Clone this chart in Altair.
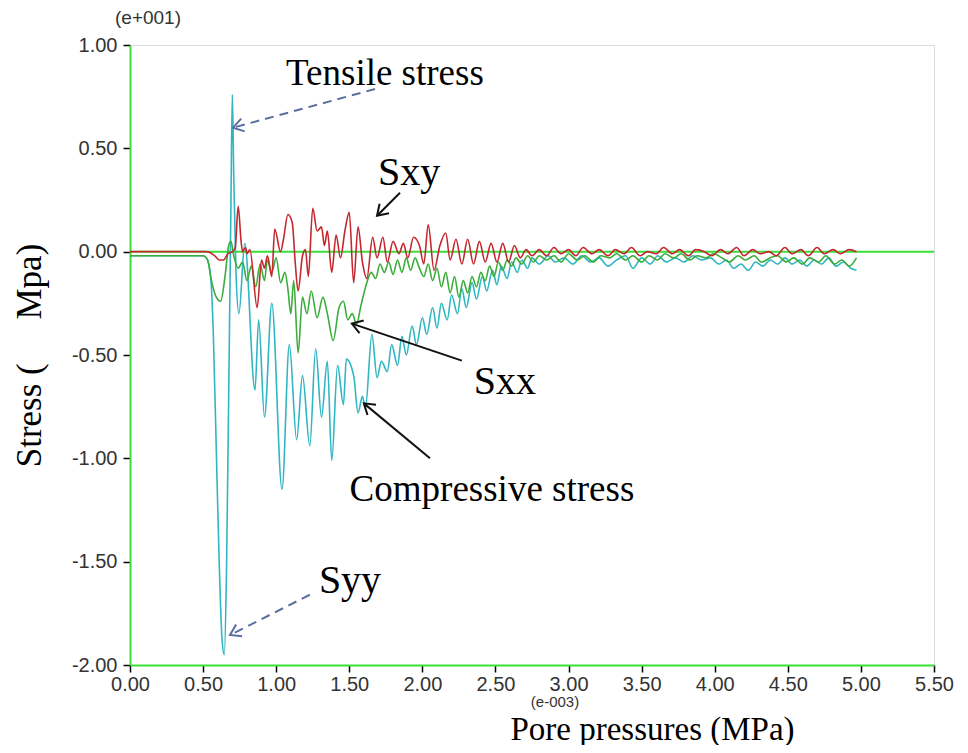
import math
import altair as alt
import pandas as pd

# ---------------- data ----------------
# Syy (cyan)
syy_x = [0.00, 0.50, 0.53, 0.555, 0.57, 0.59, 0.61, 0.63, 0.645, 0.66, 0.675, 0.69, 0.70, 0.71, 0.725,
         0.745, 0.785, 0.855, 0.88, 0.92, 0.97, 1.04, 1.09, 1.14, 1.18, 1.23, 1.27, 1.31, 1.35, 1.38,
         1.42, 1.46, 1.48, 1.53, 1.56, 1.59, 1.61, 1.655, 1.69, 1.72, 1.76, 1.79, 1.83, 1.86, 1.89,
         1.93, 1.96, 2.00, 2.03, 2.07, 2.10, 2.13, 2.17, 2.20, 2.24, 2.27, 2.30, 2.34, 2.37, 2.41,
         2.44, 2.48, 2.51, 2.54, 2.58, 2.61, 2.65, 2.68, 2.72, 2.75, 2.80, 2.86, 2.91, 2.97, 3.03,
         3.09, 3.15, 3.21, 3.27, 3.33, 3.39, 3.44, 3.50, 3.56, 3.61, 3.67, 3.73, 3.79, 3.85, 3.91,
         3.97, 4.03, 4.08, 4.13, 4.18, 4.23, 4.28, 4.33, 4.38, 4.43, 4.48, 4.53, 4.58, 4.63, 4.68,
         4.73, 4.78, 4.83, 4.88, 4.93, 4.97]
syy_y = [-0.02, -0.02, -0.04, -0.15, -0.40, -0.95, -1.50, -1.88, -1.95, -1.55, -0.70, 0.20, 0.76, 0.35, -0.10,
         -0.30, 0.04, -0.67, -0.33, -0.80, -0.25, -1.15, -0.45, -0.91, -0.60, -0.94, -0.47, -0.80, -0.53, -1.01,
         -0.55, -0.74, -0.52, -0.60, -0.78, -0.70, -0.76, -0.40, -0.61, -0.53, -0.58, -0.45, -0.55, -0.41, -0.50,
         -0.36, -0.45, -0.32, -0.40, -0.27, -0.37, -0.25, -0.33, -0.21, -0.30, -0.18, -0.27, -0.15, -0.23, -0.12,
         -0.19, -0.09, -0.16, -0.07, -0.13, -0.05, -0.10, -0.04, -0.08, -0.03, -0.06, -0.02, -0.05, -0.03, -0.06,
         -0.02, -0.05, -0.03, -0.07, -0.04, -0.02, -0.08, -0.03, -0.06, -0.02, -0.05, -0.03, -0.05, -0.02, -0.04,
         -0.03, -0.06, -0.04, -0.08, -0.06, -0.09, -0.05, -0.07, -0.04, -0.06, -0.03, -0.06, -0.04, -0.07, -0.04,
         -0.06, -0.03, -0.07, -0.05, -0.08, -0.09]

# Sxx (green)
sxx_x = [0.00, 0.50, 0.53, 0.56, 0.59, 0.62, 0.65, 0.675, 0.69, 0.71, 0.74, 0.77, 0.80, 0.83, 0.86,
         0.89, 0.92, 0.94, 0.97, 1.00, 1.03, 1.06, 1.08, 1.10, 1.12, 1.15, 1.18, 1.21, 1.24, 1.28,
         1.32, 1.35, 1.39, 1.43, 1.46, 1.49, 1.52, 1.55, 1.58, 1.62, 1.65, 1.68, 1.71, 1.74, 1.77,
         1.80, 1.83, 1.86, 1.89, 1.92, 1.95, 1.98, 2.01, 2.04, 2.07, 2.10, 2.13, 2.16, 2.19, 2.22,
         2.25, 2.28, 2.31, 2.34, 2.37, 2.40, 2.43, 2.46, 2.49, 2.52, 2.55, 2.58, 2.61, 2.64, 2.68,
         2.72, 2.76, 2.80, 2.85, 2.90, 2.95, 3.00, 3.06, 3.11, 3.17, 3.22, 3.28, 3.33, 3.39, 3.44,
         3.50, 3.55, 3.61, 3.66, 3.72, 3.77, 3.83, 3.88, 3.94, 3.99, 4.05, 4.10, 4.16, 4.21, 4.27,
         4.32, 4.38, 4.43, 4.49, 4.54, 4.60, 4.65, 4.71, 4.76, 4.82, 4.87, 4.92, 4.97]
sxx_y = [-0.02, -0.02, -0.04, -0.15, -0.22, -0.24, -0.12, 0.03, 0.05, -0.02, -0.08, -0.05, -0.14, -0.07, -0.17,
         -0.06, -0.14, -0.04, -0.10, -0.03, -0.15, -0.10, -0.18, -0.30, -0.14, -0.49, -0.22, -0.30, -0.19, -0.32,
         -0.22, -0.30, -0.43, -0.27, -0.24, -0.33, -0.30, -0.35, -0.26, -0.15, -0.10, -0.13, -0.06, -0.10, -0.05,
         -0.11, -0.04, -0.10, -0.03, -0.09, -0.03, -0.08, -0.12, -0.06, -0.14, -0.08, -0.17, -0.10, -0.20, -0.12,
         -0.22, -0.14, -0.20, -0.12, -0.17, -0.10, -0.14, -0.07, -0.12, -0.05, -0.09, -0.04, -0.07, -0.03, -0.06,
         -0.02, -0.05, -0.02, -0.04, -0.02, -0.05, -0.01, -0.04, -0.02, -0.05, -0.02, -0.03, -0.01, -0.04, -0.02,
         -0.05, -0.02, -0.04, -0.01, -0.03, -0.01, -0.04, -0.02, -0.03, -0.01, -0.03, -0.05, -0.02, -0.04, -0.02,
         -0.05, -0.03, -0.02, -0.05, -0.03, -0.06, -0.03, -0.05, -0.02, -0.06, -0.04, -0.07, -0.03]

# Sxy (red)
sxy_x = [0.00, 0.52, 0.55, 0.58, 0.61, 0.64, 0.67, 0.70, 0.72, 0.74, 0.76, 0.77, 0.79, 0.80, 0.82,
         0.87, 0.90, 0.92, 0.94, 0.97, 0.99, 1.03, 1.05, 1.08, 1.11, 1.13, 1.15, 1.18, 1.20, 1.22,
         1.25, 1.28, 1.31, 1.33, 1.35, 1.38, 1.41, 1.44, 1.47, 1.50, 1.53, 1.56, 1.59, 1.62, 1.66,
         1.69, 1.73, 1.76, 1.80, 1.84, 1.87, 1.90, 1.94, 1.98, 2.01, 2.04, 2.08, 2.12, 2.16, 2.19,
         2.23, 2.27, 2.31, 2.35, 2.39, 2.43, 2.47, 2.51, 2.55, 2.59, 2.63, 2.67, 2.71, 2.75, 2.80,
         2.85, 2.90, 2.95, 3.00, 3.05, 3.10, 3.16, 3.21, 3.27, 3.32, 3.38, 3.43, 3.49, 3.54, 3.60,
         3.65, 3.71, 3.76, 3.82, 3.87, 3.93, 3.98, 4.04, 4.09, 4.15, 4.20, 4.26, 4.31, 4.37, 4.42,
         4.48, 4.53, 4.59, 4.64, 4.70, 4.75, 4.81, 4.86, 4.92, 4.97]
sxy_y = [0.00, 0.00, -0.005, -0.02, -0.04, -0.04, -0.01, 0.00, 0.02, 0.22, 0.05, 0.00, 0.02, -0.01, 0.01,
         -0.27, -0.04, -0.08, -0.02, -0.12, 0.11, 0.00, 0.06, 0.18, 0.14, -0.05, -0.19, -0.02, 0.01, -0.12,
         0.21, 0.10, 0.12, 0.03, 0.10, -0.10, 0.08, -0.03, 0.10, 0.19, -0.15, 0.12, -0.05, -0.13, 0.07,
         -0.03, 0.07, -0.05, 0.05, -0.01, 0.04, -0.03, 0.07, 0.03, -0.06, 0.13, -0.09, 0.03, 0.09, -0.04,
         0.06, -0.06, 0.06, -0.06, 0.05, -0.05, 0.04, -0.05, 0.04, -0.05, 0.03, -0.03, 0.01, -0.02, 0.01,
         -0.02, 0.02, -0.01, 0.01, -0.02, 0.02, -0.01, 0.01, -0.02, 0.01, -0.01, 0.02, -0.02, 0.00, -0.01,
         0.02, -0.01, 0.01, -0.02, 0.01, 0.00, -0.02, 0.01, -0.01, 0.02, -0.02, 0.01, -0.01, 0.00, -0.02,
         0.02, -0.01, 0.01, -0.02, 0.02, -0.01, 0.01, -0.01, 0.01, 0.00]

x_ticks = [0.0, 0.5, 1.0, 1.5, 2.0, 2.5, 3.0, 3.5, 4.0, 4.5, 5.0, 5.5]
y_ticks = [-2.0, -1.5, -1.0, -0.5, 0.0, 0.5, 1.0]

# annotations: text, x, y, font size
ann_text = ["Tensile stress", "Sxy", "Sxx", "Compressive stress", "Syy"]
ann_x = [1.744, 1.909, 2.565, 2.476, 1.505]
ann_y = [0.861, 0.382, -0.629, -1.152, -1.592]
ann_size = [37, 40, 40, 37, 40]

# arrows: start (x, y) -> tip (x2, y2)
arr_x = [1.676, 1.23, 1.847, 2.27, 2.052]
arr_y = [0.787, -1.66, 0.285, -0.527, -1.00]
arr_tx = [0.705, 0.684, 1.69, 1.518, 1.60]
arr_ty = [0.60, -1.855, 0.174, -0.348, -0.734]
arr_dashed = [True, True, False, False, False]

# ---------------- styling ----------------
W, H = 804, 620
X_DOM = [0, 5.5]
Y_DOM = [-2, 1]
GREEN_AXIS = "#38e038"
C_SYY = "#2fb6c2"
C_SXX = "#3aad3a"
C_SXY = "#c4282e"
C_DASH = "#5a6f9e"

xscale = alt.Scale(domain=X_DOM, nice=False, zero=False)
yscale = alt.Scale(domain=Y_DOM, nice=False, zero=False)

x_axis = alt.Axis(values=x_ticks, format=".2f", grid=False,
                  labelFont="Liberation Sans", labelFontSize=20, labelColor="#333333",
                  labelPadding=2, labelFlush=False,
                  tickColor="#000000", tickSize=7, tickWidth=1.5,
                  domainColor=GREEN_AXIS, domainWidth=2,
                  title="Pore pressures (MPa)", titleFont="Liberation Serif", titleFontSize=33,
                  titleFontWeight="normal", titleColor="#000000",
                  titleX=522, titleY=64, titleAlign="center", titleBaseline="middle")
y_axis = alt.Axis(values=y_ticks, grid=False,
                  labelExpr="replace(format(datum.value, '.2f'), '\u2212', '-')",
                  labelFont="Liberation Sans", labelFontSize=20, labelColor="#333333",
                  labelPadding=6, labelFlush=False,
                  tickColor="#000000", tickSize=7, tickWidth=1.5,
                  domainColor=GREEN_AXIS, domainWidth=2,
                  title="Stress (\u00a0\u00a0\u00a0\u00a0\u00a0Mpa)", titleFont="Liberation Serif", titleFontSize=35,
                  titleFontWeight="normal", titleColor="#000000",
                  titleAngle=270, titleX=-101, titleY=310, titleAlign="center", titleBaseline="middle")


def xe(field="x"):
    return alt.X(f"{field}:Q", scale=xscale, axis=x_axis)


def ye(field="y"):
    return alt.Y(f"{field}:Q", scale=yscale, axis=y_axis)


def series(xs, ys, color):
    d = pd.DataFrame({"x": xs, "y": ys, "o": list(range(len(xs)))})
    return alt.Chart(d).mark_line(color=color, strokeWidth=1.6, clip=True,
                                  interpolate="monotone").encode(
        x=xe(), y=ye(), order="o:Q")


zero = alt.Chart(pd.DataFrame({"x": [X_DOM[0]], "x2": [X_DOM[1]], "y": [0.0]})).mark_rule(
    color=GREEN_AXIS, strokeWidth=2).encode(x=xe(), x2="x2:Q", y=ye())

ann_df = pd.DataFrame({"t": ann_text, "x": ann_x, "y": ann_y, "fs": ann_size})
texts = alt.Chart(ann_df).mark_text(font="Liberation Serif", color="#000000", align="center",
                                    baseline="middle").encode(
    x=xe(), y=ye(), text="t:N", size=alt.Size("fs:Q", scale=None, legend=None))

# arrow angles (screen space)
px_per_x = W / (X_DOM[1] - X_DOM[0])
px_per_y = H / (Y_DOM[1] - Y_DOM[0])
angles = []
for sx, sy, tx, ty in zip(arr_x, arr_y, arr_tx, arr_ty):
    dx = (tx - sx) * px_per_x
    dy = -(ty - sy) * px_per_y
    angles.append(math.degrees(math.atan2(dy, dx)) % 360)

arr_df = pd.DataFrame({"x": arr_x, "y": arr_y, "x2": arr_tx, "y2": arr_ty,
                       "ang": angles, "dashed": arr_dashed})

dashed_lines = alt.Chart(arr_df[arr_df.dashed]).mark_rule(
    color=C_DASH, strokeWidth=2, strokeDash=[9, 6]).encode(x=xe(), y=ye(), x2="x2:Q", y2="y2:Q")
solid_lines = alt.Chart(arr_df[~arr_df.dashed]).mark_rule(
    color="#111111", strokeWidth=2).encode(x=xe(), y=ye(), x2="x2:Q", y2="y2:Q")

chevron = "M -1 -0.65 L 0 0 L -1 0.65"
dashed_heads = alt.Chart(arr_df[arr_df.dashed]).mark_point(
    shape=chevron, filled=False, color=C_DASH, strokeWidth=2, size=420, opacity=1).encode(
    x=xe("x2"), y=ye("y2"), angle=alt.Angle("ang:Q", scale=None))
solid_heads = alt.Chart(arr_df[~arr_df.dashed]).mark_point(
    shape=chevron, filled=False, color="#111111", strokeWidth=2, size=420, opacity=1).encode(
    x=xe("x2"), y=ye("y2"), angle=alt.Angle("ang:Q", scale=None))

exp_df = pd.DataFrame({"t": ["(e+001)", "(e-003)"]})
exp_top = alt.Chart(exp_df.iloc[[0]]).mark_text(
    font="Liberation Sans", fontSize=19, color="#333333", align="center", baseline="middle").encode(
    text="t:N", x=alt.value(18), y=alt.value(-27))
exp_bottom = alt.Chart(exp_df.iloc[[1]]).mark_text(
    font="Liberation Sans", fontSize=15, color="#333333", align="center", baseline="middle").encode(
    text="t:N", x=alt.value(425), y=alt.value(H + 37))

chart = alt.layer(
    zero,
    series(syy_x, syy_y, C_SYY),
    series(sxx_x, sxx_y, C_SXX),
    series(sxy_x, sxy_y, C_SXY),
    dashed_lines, solid_lines, dashed_heads, solid_heads,
    texts, exp_top, exp_bottom,
).properties(
    width=W, height=H,
    autosize=alt.AutoSizeParams(type="none"),
    padding={"left": 122, "top": 37, "right": 24, "bottom": 80},
).configure_view(stroke=None).configure(background="#ffffff")

chart.save("out.html", embed_options={"renderer": "svg", "actions": False})
